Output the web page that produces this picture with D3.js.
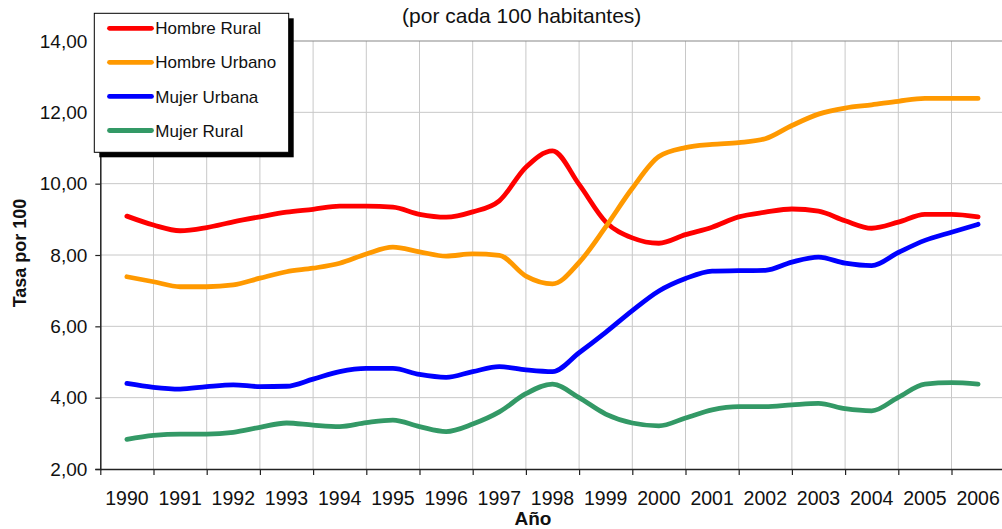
<!DOCTYPE html>
<html>
<head>
<meta charset="utf-8">
<script src="https://cdn.jsdelivr.net/npm/d3@7"></script>
<style>
  html, body { margin: 0; padding: 0; background: #fff; }
  svg { display: block; font-family: "Liberation Sans", Arial, Helvetica, sans-serif; }
</style>
</head>
<body>
<svg id="chart" width="1002" height="529"></svg>
<script>
// ---- data ----
const years = ["1990","1991","1992","1993","1994","1995","1996","1997","1998","1999","2000","2001","2002","2003","2004","2005","2006"];
const periods = [1990,1990.5,1991,1991.5,1992,1992.5,1993,1993.5,1994,1994.5,1995,1995.5,1996,1996.5,1997,1997.5,1998,1998.5,1999,1999.5,2000,2000.5,2001,2001.5,2002,2002.5,2003,2003.5,2004,2004.5,2005,2005.5,2006];
const hombreRural  = [9.09,8.84,8.68,8.77,8.93,9.07,9.20,9.28,9.37,9.37,9.34,9.14,9.06,9.21,9.52,10.46,10.92,9.98,8.93,8.48,8.33,8.57,8.78,9.07,9.20,9.29,9.23,8.96,8.75,8.92,9.14,9.14,9.07];
const hombreUrbano = [7.39,7.25,7.11,7.11,7.16,7.35,7.53,7.63,7.77,8.03,8.22,8.09,7.97,8.03,7.99,7.41,7.19,7.79,8.79,9.87,10.76,11.01,11.10,11.15,11.26,11.63,11.95,12.12,12.21,12.31,12.39,12.39,12.39];
const mujerUrbana  = [4.40,4.29,4.24,4.31,4.36,4.31,4.32,4.52,4.73,4.82,4.82,4.65,4.57,4.73,4.87,4.78,4.73,5.26,5.83,6.44,6.99,7.34,7.55,7.56,7.57,7.80,7.94,7.77,7.70,8.07,8.41,8.64,8.86];
const mujerRural   = [2.83,2.94,2.98,2.98,3.03,3.17,3.29,3.23,3.19,3.30,3.37,3.19,3.05,3.26,3.60,4.11,4.38,4.00,3.54,3.29,3.21,3.43,3.66,3.75,3.75,3.80,3.84,3.69,3.63,4.01,4.38,4.42,4.38];
const seriesNames  = ["Hombre Rural","Hombre Urbano","Mujer Urbana","Mujer Rural"];
const seriesColors = ["#ff0000","#ff9900","#0000ff","#339966"];
const yTicks = [2,4,6,8,10,12,14];
const titleText = "(por cada 100 habitantes)";
const xTitle = "Año";
const yTitle = "Tasa por 100";

const seriesValues = [hombreRural, hombreUrbano, mujerUrbana, mujerRural];

// ---- layout ----
const svg = d3.select("#chart");
const L = 100.3, R = 1004.7, T = 41, B = 469;

const xBand = d3.scaleBand().domain(years).range([L, R]).padding(0);
const xLin = d3.scaleLinear().domain([1990, 2007]).range([L, R]);
const y = d3.scaleLinear().domain([2, 14]).range([B, T]);

const locale = d3.formatLocale({decimal: ",", thousands: ".", grouping: [3], currency: ["", ""]});
const fmt = locale.format(".2f");

// plot background
svg.append("rect").attr("x", L).attr("y", T).attr("width", R - L).attr("height", B - T).attr("fill", "#fff");

// gridlines
const boundaries = d3.range(0, years.length + 1).map(i => 1990 + i);
svg.append("g").selectAll("line").data(yTicks.filter(v => v > 2 && v < 14)).join("line")
  .attr("x1", L).attr("x2", R).attr("y1", d => y(d)).attr("y2", d => y(d))
  .attr("stroke", "#c8c8c8").attr("stroke-width", 1);
svg.append("g").selectAll("line").data(boundaries.slice(1)).join("line")
  .attr("x1", d => xLin(d)).attr("x2", d => xLin(d)).attr("y1", T).attr("y2", B)
  .attr("stroke", "#c8c8c8").attr("stroke-width", 1);

// top border
svg.append("line").attr("x1", L).attr("x2", R).attr("y1", T).attr("y2", T)
  .attr("stroke", "#888").attr("stroke-width", 1.2);

// series lines
const line = d3.line()
  .x((d, i) => xLin(periods[i] + 0.5))
  .y(d => y(d))
  .curve(d3.curveMonotoneX);

seriesValues.forEach((vals, k) => {
  svg.append("path").datum(vals)
    .attr("fill", "none")
    .attr("stroke", seriesColors[k])
    .attr("stroke-width", 4.8)
    .attr("stroke-linecap", "round")
    .attr("stroke-linejoin", "round")
    .attr("d", line);
});

// y axis
const yAxis = svg.append("g").attr("transform", `translate(${L},0)`)
  .call(d3.axisLeft(y).tickValues(yTicks).tickFormat(fmt).tickSize(5).tickPadding(8));
yAxis.select(".domain").attr("stroke", "#222").attr("stroke-width", 1.5);
yAxis.selectAll(".tick line").attr("stroke", "#222").attr("stroke-width", 1.2);
yAxis.selectAll("text").attr("font-size", 19).attr("fill", "#111")
  .attr("font-family", "Liberation Sans, Arial, sans-serif");

// x axis: tick marks at category boundaries
const xTickAxis = svg.append("g").attr("transform", `translate(0,${B})`)
  .call(d3.axisBottom(xLin).tickValues(boundaries).tickFormat("").tickSize(6).tickSizeOuter(0));
xTickAxis.select(".domain").attr("stroke", "#222").attr("stroke-width", 1.5);
xTickAxis.selectAll(".tick line").attr("stroke", "#222").attr("stroke-width", 1.2);

// x axis: labels centered in categories
const xLabelAxis = svg.append("g").attr("transform", `translate(0,${B})`)
  .call(d3.axisBottom(xBand).tickSize(0).tickPadding(22));
xLabelAxis.select(".domain").remove();
xLabelAxis.selectAll("text").attr("font-size", 19.5).attr("fill", "#111")
  .attr("font-family", "Liberation Sans, Arial, sans-serif");

// titles
svg.append("text").attr("x", 521.7).attr("y", 23).attr("text-anchor", "middle")
  .attr("font-size", 21).attr("fill", "#111").text(titleText);
svg.append("text").attr("x", 533).attr("y", 525).attr("text-anchor", "middle")
  .attr("font-size", 19).attr("font-weight", "bold").attr("fill", "#111").text(xTitle);
svg.append("text").attr("transform", "translate(26,253) rotate(-90)").attr("text-anchor", "middle")
  .attr("font-size", 18).attr("font-weight", "bold").attr("fill", "#111").text(yTitle);

// legend
const lg = svg.append("g");
const lx = 94.3, ly = 13.3, lw = 194.4, lh = 139;
lg.append("rect").attr("x", lx + 5).attr("y", ly + 5).attr("width", lw).attr("height", lh).attr("fill", "#000");
lg.append("rect").attr("x", lx).attr("y", ly).attr("width", lw).attr("height", lh)
  .attr("fill", "#fff").attr("stroke", "#000").attr("stroke-width", 1);
const rowY = d3.scalePoint().domain(seriesNames).range([28.3, 130.5]);
seriesNames.forEach((name, k) => {
  const yy = rowY(name);
  lg.append("line").attr("x1", 109.5).attr("x2", 151.5).attr("y1", yy).attr("y2", yy)
    .attr("stroke", seriesColors[k]).attr("stroke-width", 4.8).attr("stroke-linecap", "round");
  lg.append("text").attr("x", 155.3).attr("y", yy).attr("dy", "0.36em")
    .attr("font-size", 17).attr("fill", "#111").text(name);
});
</script>
</body>
</html>
